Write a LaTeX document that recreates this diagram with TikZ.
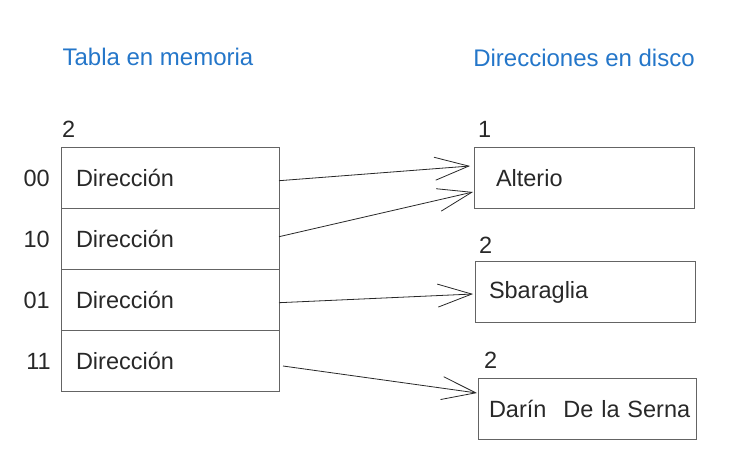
\documentclass[tikz,border=0pt]{standalone}
\usepackage{fontspec}
\setmainfont{Liberation Sans}
\usetikzlibrary{arrows.meta,positioning}
\definecolor{titleblue}{RGB}{36,118,201}
\definecolor{boxgray}{RGB}{100,100,100}
\definecolor{inkgray}{RGB}{40,40,40}

\begin{document}
\begin{tikzpicture}[x=1pt,y=-1pt,font=\fontsize{23.5}{27}\selectfont,text=inkgray,
  cell/.style={draw=boxgray,line width=1pt,outer sep=0pt,minimum height=61pt,
    align=left,inner ysep=0pt},
  lbl/.style={inner sep=0pt},
  title/.style={inner sep=0pt,text=titleblue,font=\fontsize{24}{28}\selectfont},
  ptr/.style={draw=inkgray,line width=0.8pt,-{Straight Barb[length=34pt,width=23pt]}}]
\useasboundingbox (0,0) rectangle (744,463);

\node[title] (tmem) at (158,57) {Tabla en memoria};
\node[title] (tdisk) at (584,58) {Direcciones en disco};

% tabla en memoria
\node[cell,text width=188pt,inner xsep=15pt] (d00) at (170,178) {Dirección};
\node[cell,text width=188pt,inner xsep=15pt] (d10) [below=0pt of d00] {Dirección};
\node[cell,text width=188pt,inner xsep=15pt] (d01) [below=0pt of d10] {Dirección};
\node[cell,text width=188pt,inner xsep=15pt] (d11) [below=0pt of d01] {Dirección};
\node[lbl] (g0) [above right=10pt and 1pt of d00.north west] {2};
\node[lbl] (k00) [left=11pt of d00] {00};
\node[lbl] (k10) [left=11pt of d10] {10};
\node[lbl] (k01) [left=11pt of d01] {01};
\node[lbl] (k11) [left=10pt of d11] {11};

% cubetas en disco
\node[cell,text width=176pt,inner xsep=22pt] (alt) at (584,178) {Alterio};
\node[cell,text width=192pt,inner xsep=14pt] (sba) at (585,292) {Sbaraglia};
\node[cell,text width=196pt,inner xsep=11pt] (dar) at (587,408.5) {\mbox{Darín\hspace{17pt}De la Serna}};
\node[lbl] (g1) [above right=10pt and 4pt of alt.north west] {1};
\node[lbl] (g2) [above right=8pt and 4pt of sba.north west] {2};
\node[lbl] (g3) [above right=9pt and 6pt of dar.north west] {2};

\path
([yshift=-2.7pt]d00.east) edge[ptr] ([xshift=-4pt,yshift=12pt]alt.west)
([yshift=2.3pt]d10.east) edge[ptr] ([xshift=-1pt,yshift=-14pt]alt.west)
([yshift=-2.7pt]d01.east) edge[ptr] ([xshift=-2pt,yshift=-2pt]sba.west)
([xshift=4pt,yshift=-5pt]d11.east) edge[ptr] ([xshift=-1pt,yshift=15.5pt]dar.west);
\end{tikzpicture}
\end{document}
